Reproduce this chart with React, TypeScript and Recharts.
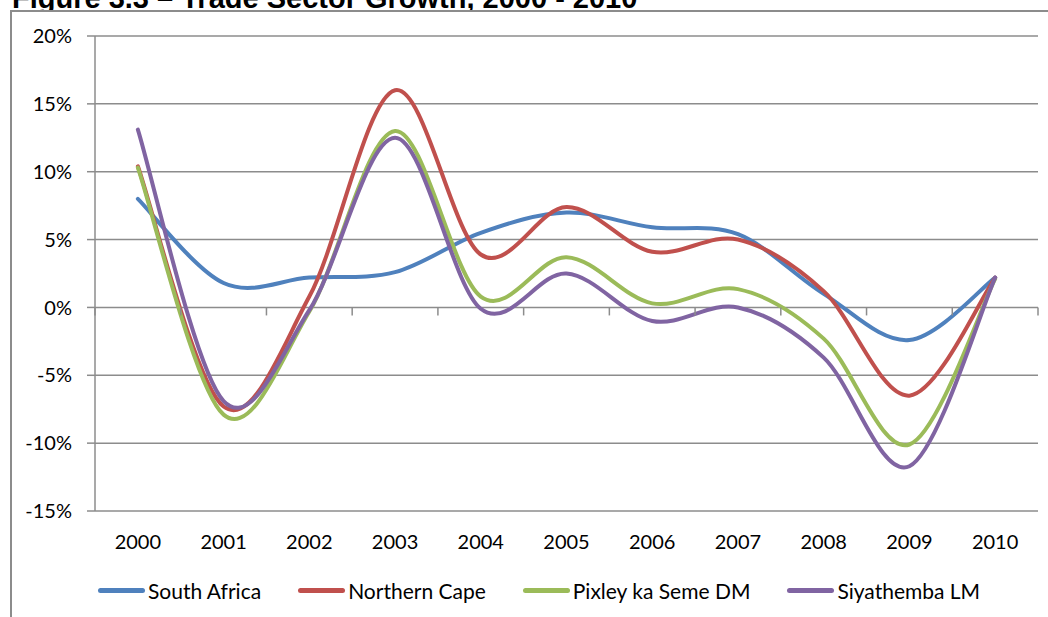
import { LineChart, Line, XAxis, YAxis, CartesianGrid } from "recharts";

const years = ["2000", "2001", "2002", "2003", "2004", "2005", "2006", "2007", "2008", "2009", "2010"];
const southAfrica = [8.0, 1.8, 2.2, 2.6, 5.5, 7.0, 5.9, 5.4, 1.0, -2.4, 2.2];
const northernCape = [10.4, -7.3, 0.8, 16.0, 3.9, 7.4, 4.1, 5.0, 1.2, -6.5, 2.2];
const pixley = [10.3, -7.9, -0.3, 13.0, 0.8, 3.7, 0.3, 1.35, -2.3, -10.1, 2.1];
const siyathemba = [13.1, -6.9, -0.2, 12.5, -0.1, 2.5, -1.0, 0.0, -3.7, -11.7, 2.2];
const yTicks = [-15, -10, -5, 0, 5, 10, 15, 20];

const seriesNames = ["South Africa", "Northern Cape", "Pixley ka Seme DM", "Siyathemba LM"];
const seriesKeys = ["sa", "nc", "pk", "sy"];
const seriesColors = ["#4F81BD", "#C0504D", "#9BBB59", "#8064A2"];

const data = years.map((year, i) => ({
  year,
  sa: southAfrica[i],
  nc: northernCape[i],
  pk: pixley[i],
  sy: siyathemba[i],
}));

// plot area layout
const W = 1048;
const H = 617;
const PLOT_LEFT = 95;
const PLOT_TOP = 36;
const PLOT_RIGHT = 1038;
const PLOT_BOTTOM = 511;
const Y_MIN = yTicks[0];
const Y_MAX = yTicks[yTicks.length - 1];
const STEP = (PLOT_RIGHT - PLOT_LEFT) / years.length;
const ZERO_Y = PLOT_TOP + ((Y_MAX - 0) / (Y_MAX - Y_MIN)) * (PLOT_BOTTOM - PLOT_TOP);

const AXIS = "#8c8c8c";
const FONT = "Lato, 'Open Sans', sans-serif";

// Excel-style smoothing (uniform Catmull-Rom through the points)
function excelCurve(context: any) {
  let pts: [number, number][] = [];
  return {
    areaStart() {},
    areaEnd() {},
    lineStart() {
      pts = [];
    },
    lineEnd() {
      const n = pts.length;
      if (!n) return;
      context.moveTo(pts[0][0], pts[0][1]);
      for (let i = 0; i < n - 1; i++) {
        const p0 = pts[Math.max(i - 1, 0)];
        const p1 = pts[i];
        const p2 = pts[i + 1];
        const p3 = pts[Math.min(i + 2, n - 1)];
        context.bezierCurveTo(
          p1[0] + (p2[0] - p0[0]) / 6,
          p1[1] + (p2[1] - p0[1]) / 6,
          p2[0] - (p3[0] - p1[0]) / 6,
          p2[1] - (p3[1] - p1[1]) / 6,
          p2[0],
          p2[1]
        );
      }
    },
    point(x: number, y: number) {
      pts.push([+x, +y]);
    },
  };
}

function YearTick(props: any) {
  const { x, payload, index } = props;
  return (
    <g>
      <line x1={x - STEP / 2} x2={x - STEP / 2} y1={ZERO_Y} y2={ZERO_Y + 8} stroke={AXIS} strokeWidth={1.5} />
      {index === years.length - 1 && (
        <line x1={x + STEP / 2} x2={x + STEP / 2} y1={ZERO_Y} y2={ZERO_Y + 8} stroke={AXIS} strokeWidth={1.5} />
      )}
      <text x={x} y={PLOT_BOTTOM + 30} textAnchor="middle" dominantBaseline="central" fill="#000" fontSize={20} fontFamily={FONT}>
        {payload.value}
      </text>
    </g>
  );
}

export default function App() {
  return (
    <div style={{ position: "absolute", left: 0, top: 0, width: W, height: H, overflow: "hidden", background: "#fff" }}>
      <svg width={W} height={40} style={{ position: "absolute", left: 0, top: 0 }}>
        <text x={12} y={7.5} fontFamily="'Liberation Sans', Arial, sans-serif" fontWeight="bold" fontSize={29} fill="#000">
          Figure 3.3 – Trade Sector Growth, 2000 - 2010
        </text>
      </svg>
      <div
        style={{
          position: "absolute",
          left: 10,
          top: 10,
          width: W,
          height: H,
          background: "#fff",
          borderLeft: `2px solid ${AXIS}`,
          borderTop: `2px solid ${AXIS}`,
        }}
      />
      <div style={{ position: "absolute", left: 0, top: 0 }}>
        <LineChart width={W} height={H} data={data} margin={{ top: PLOT_TOP, right: W - PLOT_RIGHT, bottom: 0, left: 0 }}>
          <CartesianGrid vertical={false} stroke={AXIS} strokeWidth={1.5} />
          <XAxis
            dataKey="year"
            height={H - PLOT_BOTTOM}
            padding={{ left: STEP / 2, right: STEP / 2 }}
            axisLine={false}
            tickLine={false}
            tickSize={0}
            interval={0}
            tick={<YearTick />}
          />
          <YAxis
            width={PLOT_LEFT}
            domain={[Y_MIN, Y_MAX]}
            ticks={yTicks}
            tickFormatter={(v: number) => `${v}%`}
            axisLine={{ stroke: AXIS, strokeWidth: 1.5 }}
            tickLine={{ stroke: AXIS, strokeWidth: 1.5 }}
            tickSize={8}
            tickMargin={15}
            tick={{ fill: "#000", fontSize: 20, fontFamily: FONT }}
          />
          {seriesKeys.map((k, i) => (
            <Line
              key={k}
              dataKey={k}
              name={seriesNames[i]}
              type={excelCurve as any}
              stroke={seriesColors[i]}
              strokeWidth={4}
              strokeLinecap="round"
              dot={false}
              activeDot={false}
              isAnimationActive={false}
            />
          ))}
        </LineChart>
      </div>
      <div
        style={{
          position: "absolute",
          left: 98,
          top: 578,
          height: 24,
          display: "flex",
          alignItems: "center",
          gap: 37,
          fontFamily: FONT,
          fontSize: 21,
          color: "#000",
        }}
      >
        {seriesNames.map((name, i) => (
          <div key={name} style={{ display: "flex", alignItems: "center" }}>
            <span
              style={{
                display: "inline-block",
                width: 47,
                height: 5,
                borderRadius: 3,
                background: seriesColors[i],
                marginRight: 3,
              }}
            />
            <span style={{ whiteSpace: "nowrap" }}>{name}</span>
          </div>
        ))}
      </div>
    </div>
  );
}
